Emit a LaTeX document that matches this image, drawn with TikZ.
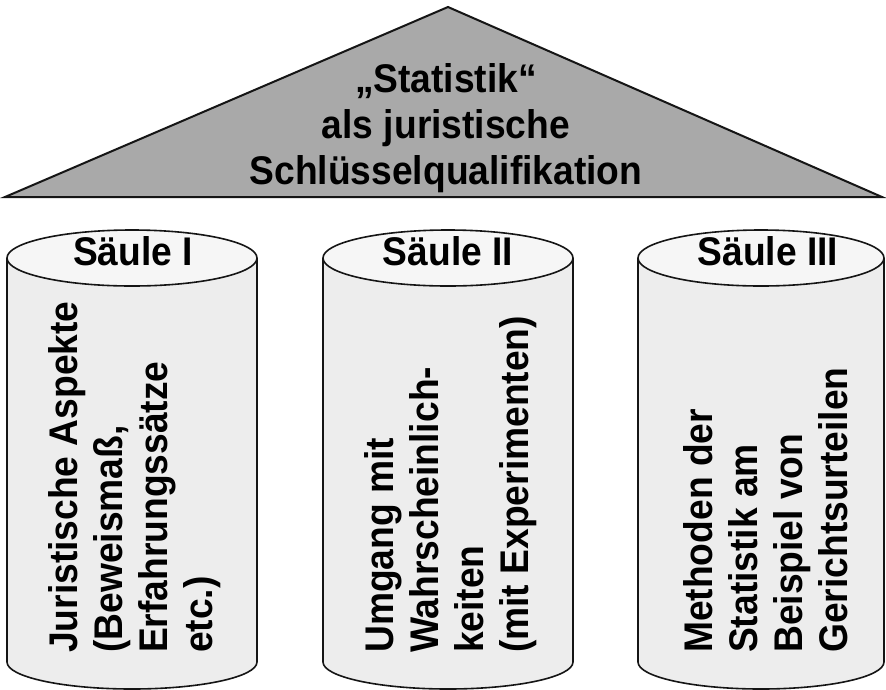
\documentclass[tikz,border=0pt]{standalone}
\usepackage{fontspec}
\setmainfont{Liberation Sans}[FakeStretch=0.93]
\usetikzlibrary{positioning}
\definecolor{Ink}{HTML}{151515}
\definecolor{RoofGray}{HTML}{A9A9A9}
\definecolor{BodyGray}{HTML}{EDEDED}
\definecolor{TopGray}{HTML}{F6F6F6}
\tikzset{
  head/.style={font=\bfseries\fontsize{40}{46}\selectfont,text=black,inner sep=0pt},
  pillartext/.style={head,rotate=90,anchor=west,align=left,font=\bfseries\fontsize{40}{45}\selectfont},
  outline/.style={draw=Ink,line width=1.6pt}
}
\newcommand{\Pillar}[5]{%
  \filldraw[outline,fill=BodyGray] (#1-#2,258) -- (#1-#2,662)
    arc[start angle=180,end angle=0,x radius=#2,y radius=27] -- (#1+#2,258);%
  \filldraw[outline,fill=TopGray] (#1,258) ellipse[x radius=#2,y radius=28];%
  \node[head,anchor=base] (#4) at (#3,265) {#5};%
}

\begin{document}
\begin{tikzpicture}[x=1pt,y=-1pt]
\fill[white] (0,0) rectangle (886,689);
\useasboundingbox (0,0) rectangle (886,689);
\filldraw[outline,line width=2pt,fill=RoofGray] (5,197) -- (448,7) -- (882,197) -- cycle;
\node[head,align=center,anchor=south] (roof) at (446,193) {„Statistik“\\als juristische\\Schlüsselqualifikation};
\foreach \cx/\rx/\tx/\n/\t in {132/125/133/1/I,448/125/448/2/II,761/123/768/3/III} {
  \Pillar{\cx}{\rx}{\tx}{saeule\n}{Säule \t}
}
\node[pillartext] (aspekte) at (135,653) {Juristische Aspekte\\(Beweismaß,\\Erfahrungssätze\\etc.)};
\node[pillartext] (umgang) at (451,653) {Umgang mit\\Wahrscheinlich-\\keiten\\(mit Experimenten)};
\node[pillartext] (methoden) at (766,653) {Methoden der\\Statistik am\\Beispiel von\\Gerichtsurteilen};
\end{tikzpicture}
\end{document}
